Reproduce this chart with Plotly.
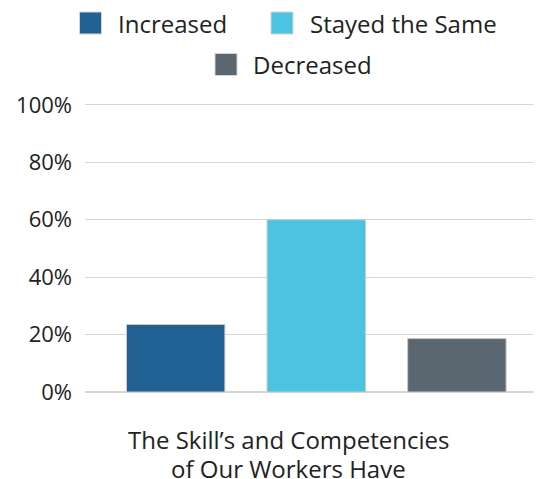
import plotly.graph_objects as go

# ---- data ----
category = ["The Skill’s and Competencies of Our Workers Have"]
caption_lines = ["The Skill’s and Competencies", "of Our Workers Have"]
series_names = ["Increased", "Stayed the Same", "Decreased"]
series_values = [23.5, 60.0, 18.6]
series_colors = ["#226193", "#4CC3E1", "#5A6670"]
y_ticks = [0, 20, 40, 60, 80, 100]
y_tick_labels = ["0%", "20%", "40%", "60%", "80%", "100%"]

# page body has an 8px margin, so the figure sits at (8, 8) in the window
OFF = 8
W, H = 541 - OFF, 479 - OFF
L, R, T, B = 77, 0, 94, 87
PW, PH = W - L - R, H - T - B
FONT = "Open Sans"
TXT = "#222222"


def sx(px):  # window x pixel -> paper x
    return (px - OFF - L) / PW


def sy(py):  # window y pixel -> paper y
    return (H - B - (py - OFF)) / PH


fig = go.Figure()
for name, val, col in zip(series_names, series_values, series_colors):
    fig.add_trace(go.Bar(
        x=[category[0]], y=[val], name=name,
        marker=dict(color=col, line=dict(color="#c8c8c8", width=1)),
        showlegend=False, hoverinfo="name+y",
    ))

# manual legend (larger swatches than plotly's native ones)
legend_layout = [  # (swatch left px, row centre px, text left px) in window pixels
    (79.5, 23, 116.5),
    (271, 23, 308.5),
    (215, 64.5, 252),
]
shapes = []
annotations = []
for (lx, cy, tx), name, col in zip(legend_layout, series_names, series_colors):
    shapes.append(dict(
        type="rect", xref="paper", yref="paper",
        xsizemode="pixel", ysizemode="pixel",
        xanchor=sx(lx), yanchor=sy(cy),
        x0=0, x1=22, y0=-11, y1=11,
        fillcolor=col, line=dict(color="#d4d4d4", width=1), layer="above",
    ))
    annotations.append(dict(
        text=name, xref="paper", yref="paper", x=sx(tx), y=sy(cy),
        xanchor="left", yanchor="middle", showarrow=False, borderpad=0,
        font=dict(family=FONT, size=24, color=TXT),
    ))

# x-axis caption (two lines)
for line, cy in zip(caption_lines, [440, 468.5]):
    annotations.append(dict(
        text=line, xref="paper", yref="paper",
        x=sx(288.3), y=sy(cy), xanchor="center", yanchor="middle",
        showarrow=False, borderpad=0,
        font=dict(family=FONT, size=24, color=TXT),
    ))

fig.update_layout(
    width=W, height=H,
    margin=dict(l=L, r=R, t=T, b=B, pad=0),
    paper_bgcolor="white", plot_bgcolor="white",
    barmode="group", bargap=0.075, bargroupgap=0.3,
    font=dict(family=FONT, size=22, color=TXT),
    showlegend=False,
    shapes=shapes, annotations=annotations,
    xaxis=dict(showticklabels=False, showgrid=False, zeroline=False,
               showline=False, ticks="", range=[-0.5072, 0.4928]),
    yaxis=dict(range=[0, 101], tickvals=y_ticks, ticktext=y_tick_labels,
               showgrid=True, gridcolor="#d6d6d6", gridwidth=1,
               zeroline=True, zerolinecolor="#d6d6d6", zerolinewidth=2,
               showline=False, ticks="", ticklabelstandoff=12,
               tickfont=dict(family=FONT, size=22, color=TXT)),
)

fig.write_html("out.html")
